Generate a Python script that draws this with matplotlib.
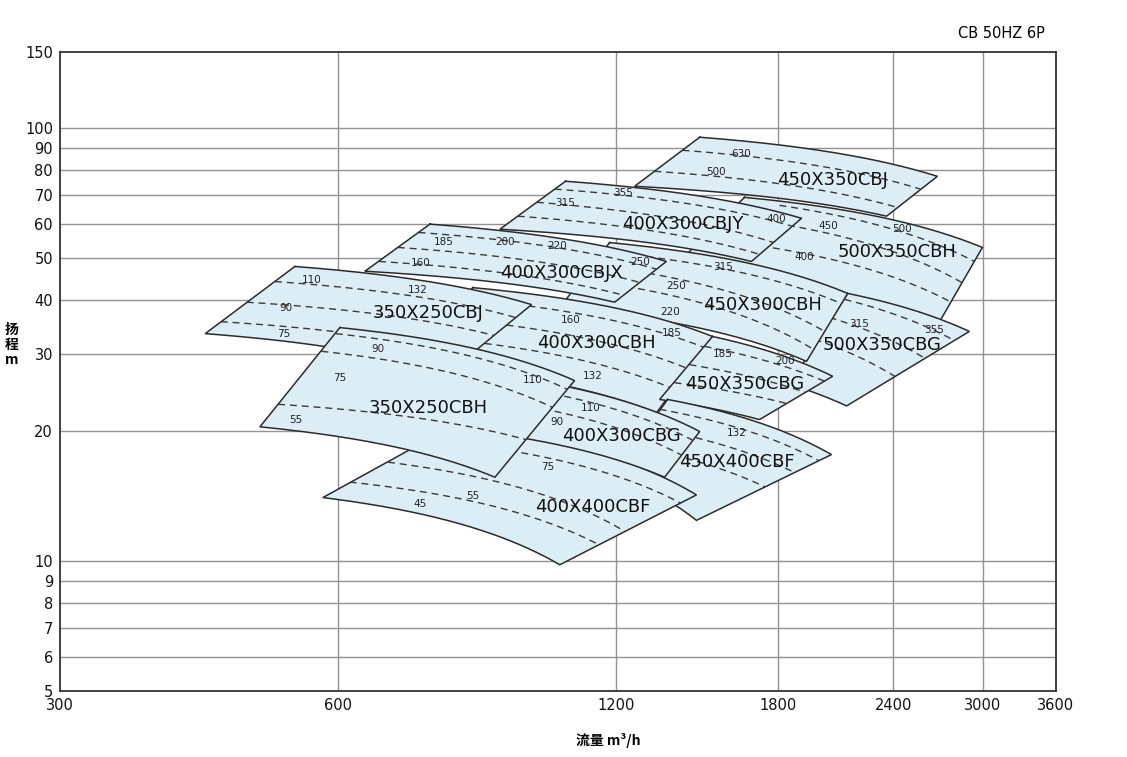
import numpy as np
import matplotlib.pyplot as plt
from matplotlib.patches import Polygon

# model names, in drawing order (back to front)
names = ['450X350CBJ', '500X350CBH', '500X350CBG', '450X300CBH', '400X300CBJX',
         '400X300CBJY', '400X300CBH', '450X350CBG', '350X250CBJ', '450X400CBF',
         '400X400CBF', '400X300CBG', '350X250CBH']

# corners of each working range: top-left, top-right, bottom-right, bottom-left
corner_q = [[1480, 2678, 2359, 1258], [1655, 2996, 2625, 1407], [2141, 2900, 2135, 1852],
            [1182, 2141, 1932, 1044], [755, 1362, 1197, 642], [1059, 1908, 1684, 899],
            [840, 1528, 1329, 736], [1528, 2062, 1718, 1339], [539, 973, 789, 431],
            [1366, 2056, 1468, 1197], [803, 1468, 1044, 578], [993, 1480, 1356, 899],
            [603, 1083, 888, 494]]
corner_h = [[95.3, 77.4, 62.6, 73.4], [69.2, 53.0, 32.5, 49.2], [41.5, 33.9, 22.8, 25.6],
            [54.4, 41.5, 28.9, 38.5], [60.0, 49.2, 39.6, 46.7], [75.4, 61.9, 49.2, 58.4],
            [42.8, 33.0, 22.0, 28.4], [33.0, 26.7, 21.2, 23.6], [47.9, 39.1, 27.1, 33.5],
            [23.6, 17.6, 12.4, 15.9], [20.6, 14.2, 9.79, 14.0], [26.0, 19.9, 15.6, 19.6],
            [34.6, 26.1, 15.6, 20.4]]

# model name positions
name_q = [2062, 2423, 2330, 1731, 1049, 1418, 1144, 1655, 751, 1622, 1133, 1218, 751]
name_h = [75.8, 51.6, 31.6, 39.1, 46.2, 60.0, 31.8, 25.6, 37.3, 16.9, 13.3, 19.4, 22.5]

# motor power boundaries (dashed): (left Q, right Q) and (left H, right H)
dash_q = [[(1418, 2567), (1322, 2423)],
          [(1806, 2936), (1740, 2844), (1676, 2759)],
          [(2124, 2793), (2046, 2594), (1971, 2407)],
          [(1153, 2108), (1125, 2021), (1097, 1966)],
          [(734, 1329), (697, 1274), (665, 1224)],
          [(1031, 1866), (986, 1779), (940, 1718)],
          [(834, 1498), (813, 1443), (793, 1390)],
          [(1498, 2021), (1443, 1927), (1390, 1838)],
          [(513, 935), (478, 885), (448, 834)],
          [(1339, 1996), (1306, 1875), (1274, 1744)],
          [(751, 1411), (680, 1227), (618, 1150)],
          [(968, 1454), (945, 1418)],
          [(597, 1064), (576, 1026), (517, 959)]]
dash_h = [[(88.9, 72.3), (79.5, 65.6)],
          [(66.3, 49.2), (60.9, 44.0), (53.9, 39.8)],
          [(40.2, 32.3), (36.5, 29.4), (32.5, 26.7)],
          [(51.9, 39.3), (48.4, 33.9), (44.7, 30.8)],
          [(57.4, 47.2), (53.0, 44.0), (49.2, 41.1)],
          [(72.3, 59.3), (67.4, 54.4), (62.6, 51.1)],
          [(40.2, 31.1), (36.1, 27.7), (32.5, 24.9)],
          [(31.3, 26.0), (28.4, 24.5), (25.8, 23.1)],
          [(44.2, 36.5), (39.6, 33.2), (35.7, 29.8)],
          [(22.4, 17.0), (20.3, 16.0), (18.3, 14.8)],
          [(19.06, 13.6), (16.9, 11.7), (15.2, 10.9)],
          [(24.9, 19.0), (23.0, 17.5)],
          [(33.5, 24.9), (30.5, 22.6), (23.0, 19.06)]]

# motor power labels (kW)
kw_text = [['630', '500'], ['450', '500', '400'], ['315', '355'], ['315', '250', '220'],
           ['185', '200', '220', '160', '250'], ['355', '315', '400'], ['160', '185', '132'],
           ['185', '200'], ['110', '90', '75', '132'], ['132'], ['45', '55', '75'],
           ['110', '90'], ['90', '75', '55', '110']]
kw_q = [[1643, 1540], [2041, 2454, 1923], [2205, 2657], [1570, 1394, 1373],
        [781, 910, 1036, 738, 1274], [1221, 1057, 1793], [1072, 1380, 1133],
        [1567, 1829], [562, 527, 524, 732], [1622], [736, 840, 1013],
        [1127, 1036], [663, 603, 540, 976]]
kw_h = [[87.1, 79.1], [59.3, 58.4, 50.3], [35.2, 34.2], [47.7, 43.1, 37.5],
        [54.7, 54.7, 53.3, 48.7, 49.0], [70.7, 67.0, 61.6], [36.1, 33.7, 26.8],
        [30.0, 28.9], [44.5, 38.5, 33.5, 42.2], [19.7], [13.5, 14.1, 16.5],
        [22.6, 20.9], [30.8, 26.5, 21.2, 26.2]]

x_ticks = [300, 600, 1200, 1800, 2400, 3000, 3600]
y_ticks = [5, 6, 7, 8, 9, 10, 20, 30, 40, 50, 60, 70, 80, 90, 100, 150]

FILL = '#ddedf6'
EDGE = '#2b2b2b'


def pump_curve(q1, h1, q2, h2, n=60):
    # H = a - b*Q^2 through both end points
    b = (h1 - h2) / (q2 ** 2 - q1 ** 2)
    a = h1 + b * q1 ** 2
    q = np.geomspace(q1, q2, n)
    return q, a - b * q ** 2


def log_line(q1, h1, q2, h2, n=20):
    # straight segment on the log-log axes
    s = np.linspace(0, 1, n)
    q = np.exp(np.log(q1) + s * (np.log(q2) - np.log(q1)))
    h = np.exp(np.log(h1) + s * (np.log(h2) - np.log(h1)))
    return q, h


def outline(qs, hs):
    tq, th = pump_curve(qs[0], hs[0], qs[1], hs[1])
    rq, rh = log_line(qs[1], hs[1], qs[2], hs[2])
    bq, bh = pump_curve(qs[3], hs[3], qs[2], hs[2])
    lq, lh = log_line(qs[3], hs[3], qs[0], hs[0])
    q = np.concatenate([tq, rq, bq[::-1], lq])
    h = np.concatenate([th, rh, bh[::-1], lh])
    return q, h


fig = plt.figure(figsize=(11.27, 7.57), dpi=100)
ax = fig.add_axes([60 / 1127, 66 / 757, 996 / 1127, 639 / 757])
ax.set_xscale('log')
ax.set_yscale('log')
ax.set_xlim(300, 3600)
ax.set_ylim(5, 150)

for v in x_ticks[1:-1]:
    ax.axvline(v, color='#929292', lw=1.0, zorder=0)
for v in y_ticks[1:-1]:
    ax.axhline(v, color='#929292', lw=1.0, zorder=0)

for i, name in enumerate(names):
    z = 2 + 3 * i
    q, h = outline(corner_q[i], corner_h[i])
    poly = Polygon(np.column_stack([q, h]), closed=True, facecolor=FILL,
                   edgecolor='none', zorder=z)
    ax.add_patch(poly)
    for (q1, q2), (h1, h2) in zip(dash_q[i], dash_h[i]):
        dq, dh = pump_curve(q1, h1, q2, h2)
        ln, = ax.plot(dq, dh, color='#3a3a3a', lw=1.0, ls=(0, (5, 3.5)), zorder=z + 1)
        ln.set_clip_path(poly)
    ax.plot(q, h, color=EDGE, lw=1.1, zorder=z + 2, solid_joinstyle='miter')

for i, name in enumerate(names):
    ax.text(name_q[i], name_h[i], name, fontsize=13, ha='center', va='center',
            color='#111111', zorder=100)
    for t, tq, th in zip(kw_text[i], kw_q[i], kw_h[i]):
        ax.text(tq, th, t, fontsize=7.5, ha='center', va='center', color='#222222',
                zorder=100)

ax.set_xticks(x_ticks)
ax.set_xticklabels([str(v) for v in x_ticks])
ax.set_yticks(y_ticks)
ax.set_yticklabels([str(v) for v in y_ticks])
ax.minorticks_off()
ax.tick_params(length=0, labelsize=10.5, colors='#111111', pad=5)
for s in ax.spines.values():
    s.set_color('#333333')
    s.set_linewidth(1.3)

cjk = ['Noto Sans CJK SC', 'DejaVu Sans']
fig.text(1045 / 1127, 1 - 33 / 757, 'CB 50HZ 6P', ha='right', va='center', fontsize=10.5)
fig.text(608 / 1127, 1 - 741 / 757, '流量 m³/h', ha='center', va='center', fontsize=10,
         family=cjk, weight='bold')
fig.text(12 / 1127, 1 - 345 / 757, '扬\n程\nm', ha='center', va='center', fontsize=10,
         family=cjk, weight='bold', linespacing=1.1)

fig.savefig('out.png', dpi=100)
